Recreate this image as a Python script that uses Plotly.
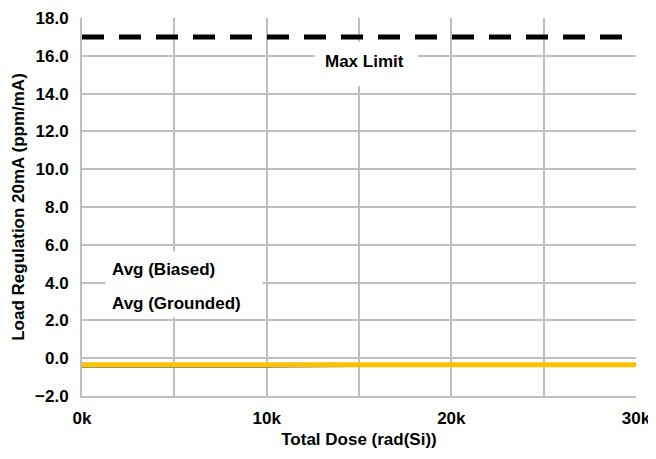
import plotly.graph_objects as go

dose = [0, 5000, 10000, 20000, 30000]
avg_biased = [-0.47, -0.48, -0.46, -0.36, -0.36]
avg_grounded = [-0.34, -0.34, -0.34, -0.34, -0.34]
limit_dose = [0, 30000]
max_limit = [17.0, 17.0]

series_names = ["Avg (Biased)", "Avg (Grounded)", "Max Limit"]
y_ticks = [-2, 0, 2, 4, 6, 8, 10, 12, 14, 16, 18]
x_ticks = [0, 10000, 20000, 30000]
x_tick_labels = ["0k", "10k", "20k", "30k"]

FONT = "Liberation Sans, Arial, sans-serif"
GRID = "#bfbfbf"
FS = 17

fig = go.Figure()
fig.add_trace(go.Scatter(x=dose, y=avg_biased, mode="lines", name=series_names[0],
                         line=dict(color="#5f8fae", width=2)))
fig.add_trace(go.Scatter(x=dose, y=avg_grounded, mode="lines", name=series_names[1],
                         line=dict(color="#FFC000", width=5)))
fig.add_trace(go.Scatter(x=limit_dose, y=max_limit, mode="lines", name=series_names[2],
                         line=dict(color="black", width=5, dash="22px,15px")))

# white label boxes covering gridlines
fig.add_shape(type="rect", xref="x", yref="y", x0=1250, x1=9800, y0=2.15, y1=5.65,
              fillcolor="white", line=dict(width=0), layer="between")
fig.add_shape(type="rect", xref="x", yref="y", x0=12600, x1=18200, y0=14.4, y1=16.75,
              fillcolor="white", line=dict(width=0), layer="between")

fig.add_annotation(x=1500, y=4.7, xref="x", yref="y", text=series_names[0], showarrow=False,
                   xanchor="left", font=dict(family=FONT, size=FS, color="black", weight="bold"))
fig.add_annotation(x=1500, y=2.9, xref="x", yref="y", text=series_names[1], showarrow=False,
                   xanchor="left", font=dict(family=FONT, size=FS, color="black", weight="bold"))
fig.add_annotation(x=15300, y=15.7, xref="x", yref="y", text=series_names[2], showarrow=False,
                   xanchor="center", font=dict(family=FONT, size=FS, color="black", weight="bold"))

fig.update_layout(
    width=656, height=459,
    margin=dict(l=74, r=28, t=10, b=71),
    paper_bgcolor="white", plot_bgcolor="white",
    showlegend=False,
    font=dict(family=FONT, size=FS, color="black"),
)
fig.update_xaxes(range=[0, 30000], tickvals=x_ticks, ticktext=x_tick_labels,
                 showgrid=True, gridcolor=GRID, gridwidth=2,
                 minor=dict(dtick=5000, showgrid=True, gridcolor=GRID, gridwidth=2, tick0=0),
                 showline=True, linecolor=GRID, linewidth=2, zeroline=False,
                 ticks="", ticklabelstandoff=6, automargin=False,
                 tickfont=dict(family=FONT, size=FS, weight="bold"),
                 title=dict(text="Total Dose (rad(Si))", standoff=6,
                            font=dict(family=FONT, size=FS, weight="bold")))
fig.update_yaxes(range=[-2, 18], tickvals=y_ticks, tickformat=".1f",
                 showgrid=True, gridcolor=GRID, gridwidth=2,
                 showline=True, linecolor=GRID, linewidth=2, zeroline=False,
                 ticks="", ticklabelstandoff=8, automargin=False,
                 tickfont=dict(family=FONT, size=FS, weight="bold"),
                 title=dict(text="Load Regulation 20mA (ppm/mA)", standoff=6,
                            font=dict(family=FONT, size=FS, weight="bold")))

fig.write_html("out.html")
